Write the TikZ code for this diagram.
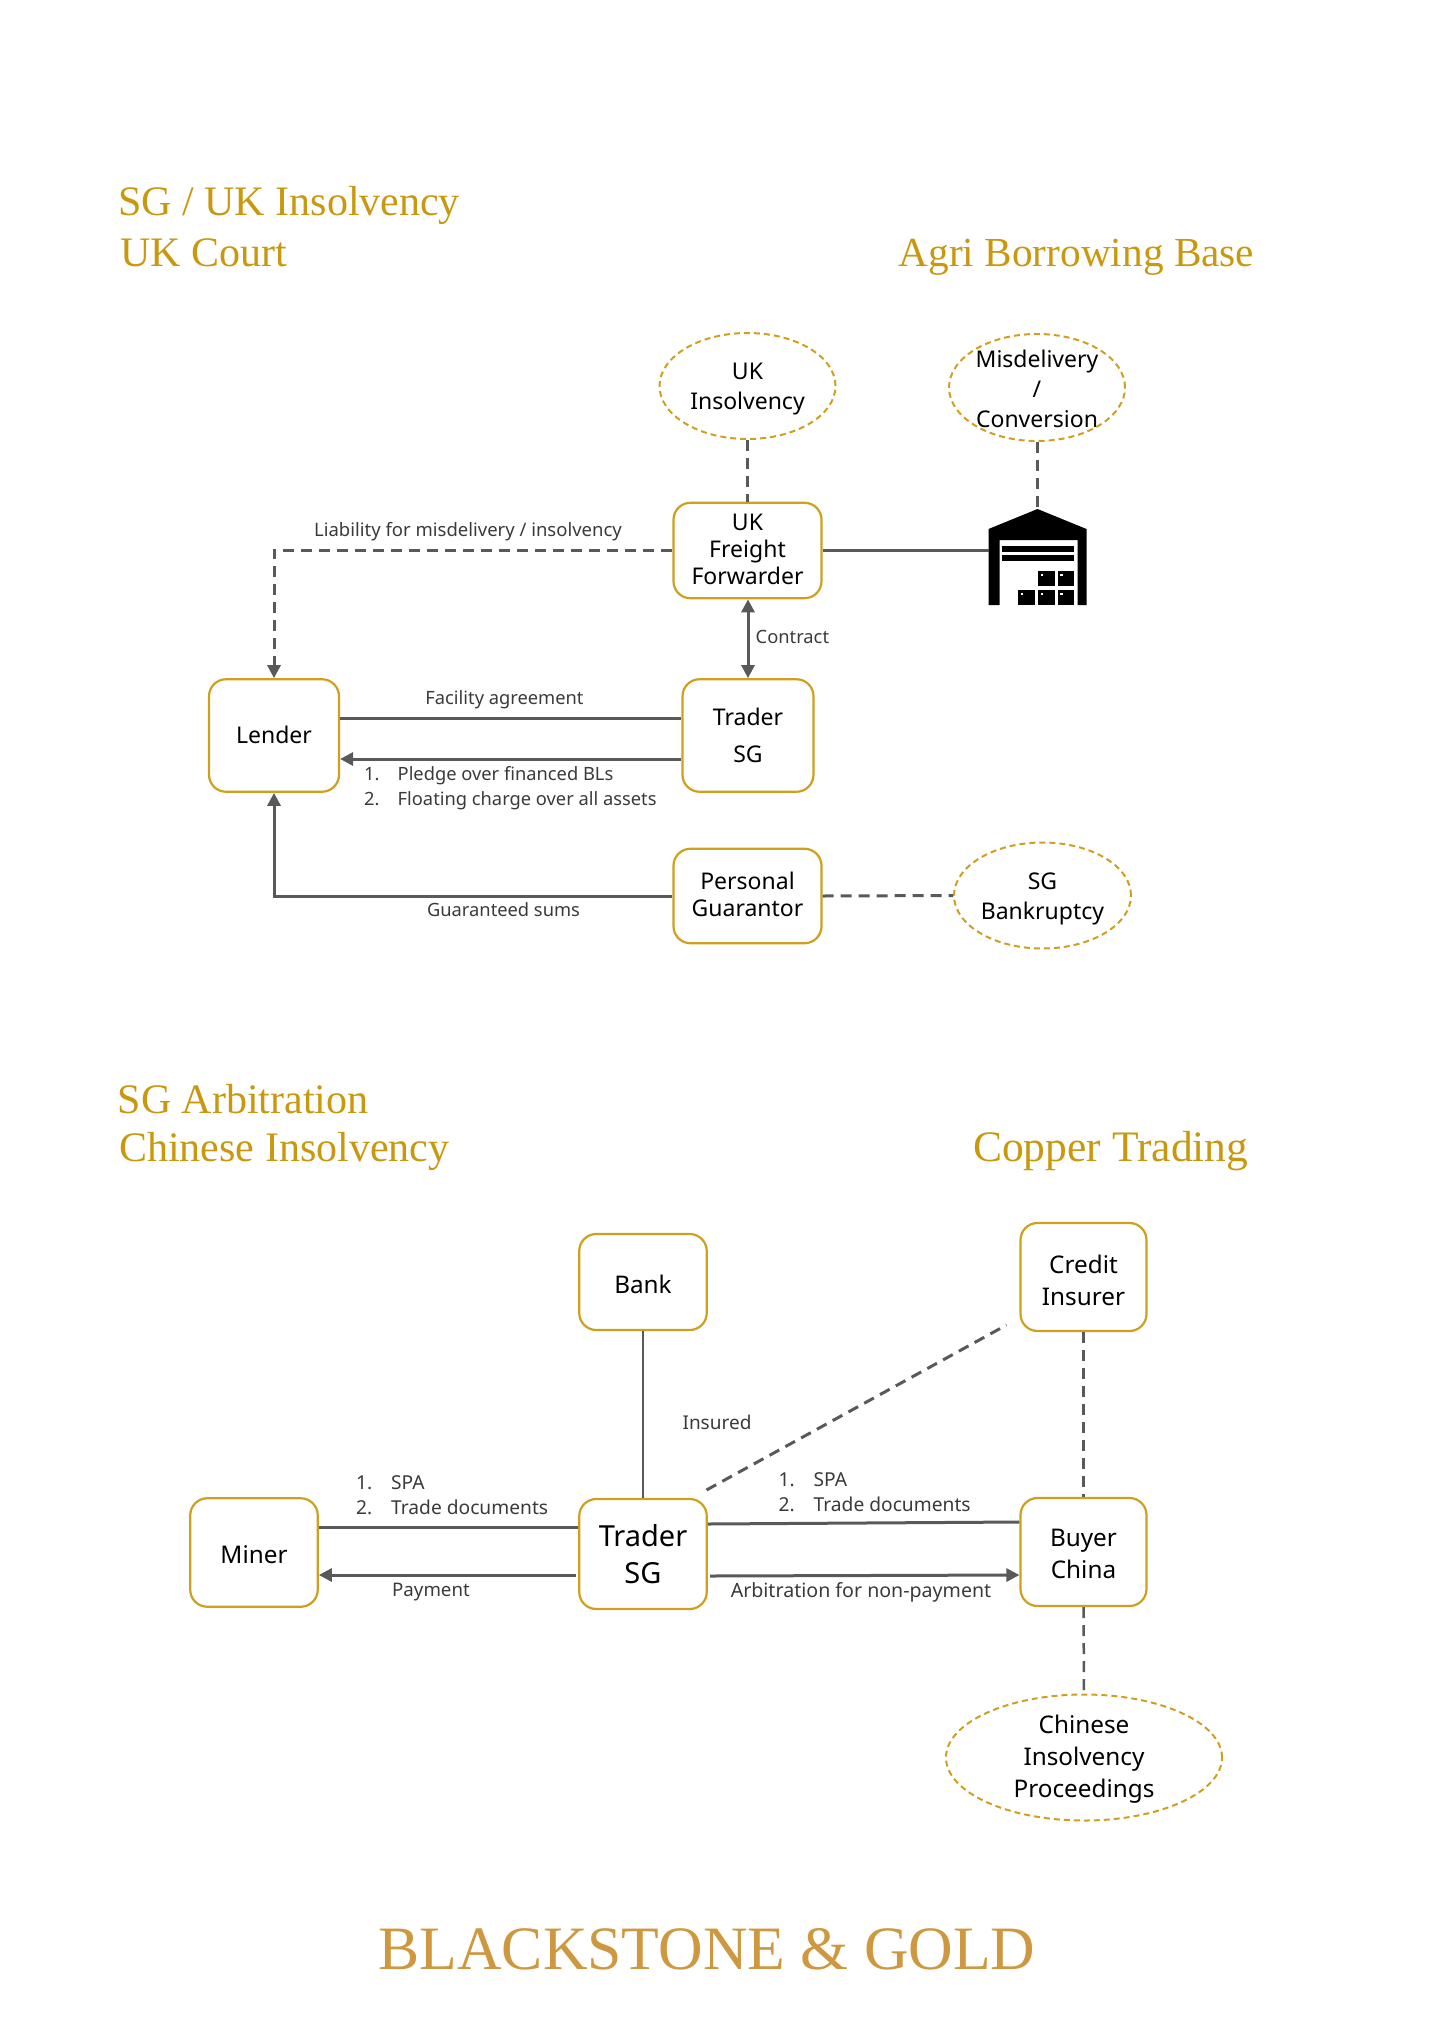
\documentclass[tikz,border=0pt]{standalone}
\usepackage{fontspec}
\setmainfont{Noto Sans}
\newfontfamily\titlefont{Liberation Serif}
\usetikzlibrary{shapes.geometric,arrows.meta}
\definecolor{gold}{HTML}{CF9F1E}
\definecolor{titlegold}{HTML}{C9980F}
\definecolor{logogold}{HTML}{CE9840}
\definecolor{linegray}{HTML}{595959}
\definecolor{labelgray}{HTML}{3A3A3A}
\tikzset{
  box/.style={draw=gold,line width=2.2pt,rounded corners=17pt,fill=white,inner sep=0pt,align=center,text=black,font=\fontsize{23}{27}\selectfont},
  boxb/.style={box,font=\fontsize{24.3}{32}\selectfont},
  bubble/.style={draw=gold,line width=2pt,dash pattern=on 6pt off 4pt,ellipse,inner sep=-24pt,align=center,text=black,font=\fontsize{23}{30}\selectfont},
  lbl/.style={inner sep=0pt,text=labelgray,font=\fontsize{18.3}{25}\selectfont,align=left},
  lblb/.style={inner sep=0pt,text=labelgray,font=\fontsize{19.2}{25.5}\selectfont,align=left},
  heading/.style={inner sep=0pt,anchor=base west,text=titlegold,font=\titlefont\fontsize{42}{42}\selectfont},
  conn/.style={draw=linegray,line width=3pt},
  dconn/.style={draw=linegray,line width=3pt,dash pattern=on 11pt off 7pt},
  tip/.style={-{Triangle[length=13pt,width=13pt]}},
  tips/.style={{Triangle[length=13pt,width=13pt]}-{Triangle[length=13pt,width=13pt]}},
}
\newcommand{\itemno}[2]{\makebox[#1pt][l]{#2}}
\newcommand{\down}[1]{\rule{0pt}{#1pt}}
\newcommand{\up}[1]{\rule[-#1pt]{0pt}{0pt}}
\begin{document}
\begin{tikzpicture}[x=1pt,y=-1pt]
\useasboundingbox (0,0) rectangle (1428,2028);
% headings
\node[heading] (t1) at (118,215) {SG / UK Insolvency};
\node[heading] (t2) at (120,266) {UK Court};
\node[heading,font=\titlefont\fontsize{41.3}{41.3}\selectfont] (t3) at (898.5,266) {Agri Borrowing Base};
\node[heading] (t4) at (117.5,1113) {SG Arbitration};
\node[heading] (t5) at (119,1161) {Chinese Insolvency};
\node[heading,font=\titlefont\fontsize{43.5}{43.5}\selectfont] (t6) at (973,1161) {Copper Trading};
\node[inner sep=0pt,text=logogold,font=\titlefont\fontsize{61.7}{61.7}\selectfont] (logo) at (707,1949) {BLACKSTONE \& GOLD};
% top diagram nodes
\node[bubble,minimum width=176pt,minimum height=106pt] (ukins) at (747.5,386) {\down{23}UK\\Insolvency};
\node[bubble,minimum width=176pt,minimum height=107pt] (mis) at (1037,387.5) {\down{21}Misdelivery\\/\\Conversion};
\node[box,minimum width=148pt,minimum height=95.5pt] (ff) at (747.5,550.5) {UK\\Freight\\\up{3}Forwarder};
\node[box,minimum width=130pt,minimum height=112.5pt] (lender) at (274,735.5) {\up{2}Lender};
\node[box,minimum width=131pt,minimum height=112.5pt,font=\fontsize{23}{37}\selectfont] (trader) at (748,735.5) {Trader\\SG};
\node[box,minimum width=148pt,minimum height=94.5pt] (pg) at (747.5,896) {Personal\\\up{4}Guarantor};
\node[bubble,minimum width=177pt,minimum height=106pt] (sgb) at (1042.5,895.5) {\down{23}SG\\Bankruptcy};
% warehouse
\node[inner sep=0pt,minimum width=97pt,minimum height=96pt] (wh) at (1037.5,557) {};
\begin{scope}[shift={(-3.5,-1)}]
\fill[black] (992,530) -- (1041,510) -- (1090,530) -- (1090,606) -- (1081,606) -- (1081,541) -- (1003,541) -- (1003,606) -- (992,606) -- cycle;
\fill[black] (1005.5,547) rectangle (1077.5,552.5);
\fill[black] (1005.5,556) rectangle (1077.5,561.5);
\foreach \a/\b in {1041.5/572,1061/572,1021.7/591,1041.5/591,1061/591}{
  \fill[black] (\a,\b) rectangle (\a+16.5,\b+14.5);
  \fill[white] (\a+2.5,\b+2.5) rectangle (\a+5,\b+5);
}
\end{scope}
% top diagram connectors
\draw[dconn] (ukins.south) -- (ukins.south |- ff.north);
\draw[dconn] (mis.south) -- (mis.south |- wh.north);
\draw[conn] (ff.east) -- (wh.west |- ff.east);
\draw[dconn,tip] (ff.west) -| (lender.north);
\draw[conn,tips] (trader.north |- ff.south) -- (trader.north);
\draw[conn] (lender.east |- 0,718) -- (trader.west |- 0,718);
\draw[conn,tip] (trader.west |- 0,759) -- (lender.east |- 0,759);
\draw[conn,tip] (pg.west) -| (lender.south);
\draw[dconn] (pg.east) -- (sgb.west);
% top labels
\node[lbl,font=\fontsize{18.5}{25}\selectfont] (l1) at (468,532) {Liability for misdelivery / insolvency};
\node[lbl,anchor=west] (l2) at (755.5,637) {Contract};
\node[lbl] (l3) at (504.5,700) {Facility agreement};
\node[lbl,anchor=north west] (l4) at (364,766) {\itemno{33.5}{1.}Pledge over financed BLs\\\itemno{33.5}{2.}Floating charge over all assets};
\node[lbl] (l5) at (503.5,909.5) {Guaranteed sums};
% bottom diagram nodes
\node[boxb,minimum width=127.5pt,minimum height=96pt] (bank) at (643,1282) {\down{23}Bank};
\node[boxb,minimum width=126pt,minimum height=108pt] (ci) at (1083.5,1277) {\down{25}Credit\\Insurer};
\node[box,minimum width=127.5pt,minimum height=110pt,font=\fontsize{29}{37}\selectfont] (tr2) at (643,1554) {Trader\\SG};
\node[boxb,minimum width=127.5pt,minimum height=108.5pt] (miner) at (254,1552.5) {\down{22}Miner};
\node[boxb,minimum width=126pt,minimum height=108pt] (buyer) at (1083.5,1552) {\down{21}Buyer\\China};
\node[bubble,minimum width=276pt,minimum height=126pt,font=\fontsize{24.3}{32}\selectfont] (cip) at (1084,1757.5) {\down{22}Chinese\\Insolvency\\Proceedings};
% bottom connectors
\coordinate (dstart) at (706.5,1490);
\coordinate (dend) at (1006.5,1325);
\draw[draw=linegray,line width=2.2pt] (bank.south) -- (tr2.north);
\draw[dconn] (dstart) -- (dend);
\draw[dconn,line width=2.5pt] (ci.south) -- (buyer.north);
\draw[dconn,line width=2.5pt] (buyer.south) -- (cip.north);
\draw[conn] (miner.east |- 0,1527) -- (tr2.west |- 0,1527);
\draw[conn,tip] (576,1575) -- (miner.east |- 0,1575);
\draw[conn] (tr2.east |- 0,1524) -- (buyer.west |- 0,1522);
\draw[conn,tip] (710,1576) -- (buyer.west |- 0,1575);
% bottom labels
\node[lblb,font=\fontsize{19}{26}\selectfont] (l6) at (717,1422) {Insured};
\node[lblb,anchor=north west] (l7) at (356,1475) {\itemno{35}{1.}SPA\\\itemno{35}{2.}Trade documents};
\node[lblb,anchor=north west] (l8) at (778.5,1472) {\itemno{35}{1.}SPA\\\itemno{35}{2.}Trade documents};
\node[lblb,font=\fontsize{18.7}{26}\selectfont] (l9) at (431,1592) {Payment};
\node[lblb,font=\fontsize{19.6}{26}\selectfont] (l10) at (861,1592) {Arbitration for non-payment};
\end{tikzpicture}
\end{document}
